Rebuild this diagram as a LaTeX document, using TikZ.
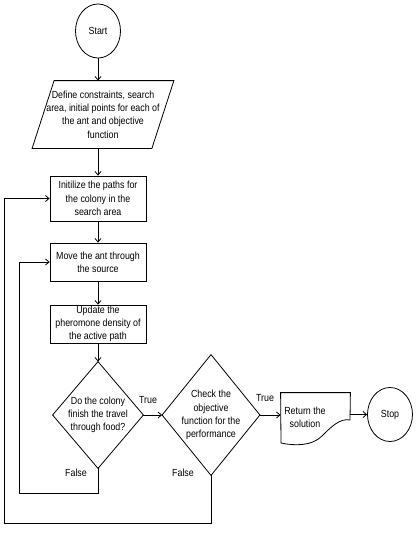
\documentclass[tikz,border=0pt]{standalone}
\usepackage{fontspec}
\setmainfont{Liberation Sans}[FakeStretch=0.86]
\usetikzlibrary{arrows.meta,shapes.geometric}
\begin{document}
\begin{tikzpicture}[x=1pt,y=-1pt,
  line width=0.8pt,
  font=\fontsize{10.3}{13.3}\selectfont,
  arr/.style={-{Straight Barb[length=3.5pt,width=6pt]}},
  term/.style={draw, ellipse, minimum width=45pt, minimum height=54pt, inner sep=0pt},
  procbox/.style={draw, rectangle, minimum width=96pt, inner sep=0pt, align=center},
  frame/.style={rectangle, inner sep=0pt, align=center},
  lbl/.style={inner sep=0pt}
]
\useasboundingbox[fill=white] (0,0) rectangle (419,533);

\node[term] (start) at (98,31) {Start};
\node[frame, minimum width=119pt, minimum height=67pt] (para) at (103,114.5)
  {Define constraints, search\\area, initial points for each of\\the ant and objective\\function};
\draw ([xshift=11pt]para.north west) -- ([xshift=11pt]para.north east)
  -- ([xshift=-11pt]para.south east) -- ([xshift=-11pt]para.south west) -- cycle;

\node[procbox, minimum height=45pt] (init) at (98,198.5) {Initilize the paths for\\the colony in the\\search area};
\node[procbox, minimum height=38pt] (move) at (98,262) {Move the ant through\\the source};
\node[procbox, minimum height=38pt] (upd) at (98,324) {Update the\\pheromone density of\\the active path};

\node[frame, minimum width=90pt, minimum height=106pt] (d1) at (98,415) {Do the colony\\finish the travel\\through food?};
\draw (d1.north) -- (d1.east) -- (d1.south) -- (d1.west) -- cycle;

\node[frame, minimum width=97pt, minimum height=120pt] (d2) at (211,415) {Check the\\objective\\function for the\\performance};
\draw (d2.north) -- (d2.east) -- (d2.south) -- (d2.west) -- cycle;

\node[frame, minimum width=69pt, minimum height=54pt] (doc) at (315.5,420) {};
\draw (doc.north west) -- (doc.north east) -- (350,420)
  .. controls (340,418) and (331,427) .. (322,436)
  .. controls (312,446) and (295,446) .. (281,443) -- cycle;
\node[lbl, align=center] (doctext) at (305,417.5) {Return the\\solution};

\node[term] (stop) at (390,414.5) {Stop};

\draw[arr] (start) -- (start |- para.north);
\draw[arr] (para.south -| init) -- (init);
\draw[arr] (init) -- (move);
\draw[arr] (move) -- (upd);
\draw[arr] (upd) -- (d1.north);
\draw[arr] (d1.east) -- (d2.west);
\draw[arr] (d2.east) -- (doc.west |- d2.east);
\draw[arr] (doc.east |- stop.west) -- (stop.west);
\draw[arr] (d1.south) -- (98,493) -- (19,493) |- (move.west);
\draw[arr] (d2.south) -- (211,523) -- (4,523) |- (init.west);

\node[lbl] (t1) at (148,400) {True};
\node[lbl] (t2) at (265,398) {True};
\node[lbl] (f1) at (76,473) {False};
\node[lbl] (f2) at (183,473) {False};
\end{tikzpicture}
\end{document}
